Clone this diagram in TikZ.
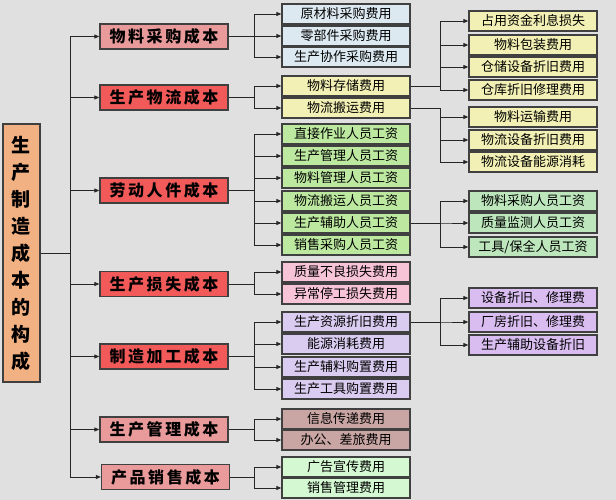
\documentclass[tikz,border=0pt]{standalone}
\usepackage{fontspec}
\setmainfont{Noto Sans CJK SC}
\usetikzlibrary{arrows.meta}
\definecolor{bgc}{HTML}{E0E0E0}
\definecolor{rootc}{HTML}{F2B183}
\definecolor{pinkc}{HTML}{E99A9A}
\definecolor{redc}{HTML}{F25A5A}
\definecolor{bluec}{HTML}{DDE9F1}
\definecolor{yelc}{HTML}{F2F0B4}
\definecolor{grnc}{HTML}{BCE8A0}
\definecolor{grnthree}{HTML}{BDE6BD}
\definecolor{pinktwo}{HTML}{F7C3D6}
\definecolor{lavc}{HTML}{DACCF0}
\definecolor{lavthree}{HTML}{D9BDF0}
\definecolor{brownc}{HTML}{C9A6A4}
\definecolor{lgrnc}{HTML}{D4F8D2}
\definecolor{edgec}{HTML}{404040}
\newcommand\ls{\kern2.6pt\relax}
\tikzset{
  boxbase/.style={draw=edgec, line width=1.3pt, inner sep=0pt, anchor=center},
  rootbox/.style={boxbase, fill=rootc, minimum width=37pt, minimum height=258pt, align=center,
     font=\bfseries\fontsize{19pt}{27pt}\selectfont},
  lvone/.style={boxbase, minimum width=128pt, minimum height=25pt, font=\bfseries\fontsize{16pt}{18pt}\selectfont},
  lvtwo/.style={boxbase, minimum width=128pt, minimum height=20pt, font=\fontsize{13pt}{15pt}\selectfont},
  arr/.style={draw=black!85, line width=0.9pt, -{Triangle[length=5pt,width=4pt]}},
}
\begin{document}
\begin{tikzpicture}[x=1pt,y=-1pt]
\fill[bgc] (0,0) rectangle (616,500);
\useasboundingbox (0,0) rectangle (616,500);

\node[rootbox] (root) at (21.5,253) {生\\产\\制\\造\\成\\本\\的\\构\\成};

\node[lvone, fill=pinkc] (b1) at (164,36.5) {物\ls 料\ls 采\ls 购\ls 成\ls 本};
\node[lvone, fill=redc] (b2) at (164,97.5) {生\ls 产\ls 物\ls 流\ls 成\ls 本};
\node[lvone, fill=redc] (b3) at (164,190.5) {劳\ls 动\ls 人\ls 件\ls 成\ls 本};
\node[lvone, fill=redc] (b4) at (164,284) {生\ls 产\ls 损\ls 失\ls 成\ls 本};
\node[lvone, fill=redc] (b5) at (164,356.5) {制\ls 造\ls 加\ls 工\ls 成\ls 本};
\node[lvone, fill=pinkc] (b6) at (164,429.5) {生\ls 产\ls 管\ls 理\ls 成\ls 本};
\node[lvone, fill=pinkc] (b7) at (165.5,477) {产\ls 品\ls 销\ls 售\ls 成\ls 本};

\foreach \b in {b1,b2,b3,b4,b5,b6,b7}
  \draw[arr] (root.east) -- ++(30,0) |- (\b.west);

% level 2
\node[lvtwo, fill=bluec] (c1) at (346,14) {原材料采购费用};
\node[lvtwo, fill=bluec] (c2) at (346,36) {零部件采购费用};
\node[lvtwo, fill=bluec] (c3) at (346,57) {生产协作采购费用};
\node[lvtwo, fill=yelc] (c4) at (346,86) {物料存储费用};
\node[lvtwo, fill=yelc] (c5) at (346,108) {物流搬运费用};
\node[lvtwo, fill=grnc] (c6) at (346,134) {直接作业人员工资};
\node[lvtwo, fill=grnc] (c7) at (346,156) {生产管理人员工资};
\node[lvtwo, fill=grnc] (c8) at (346,178) {物料管理人员工资};
\node[lvtwo, fill=grnc] (c9) at (346,201) {物流搬运人员工资};
\node[lvtwo, fill=grnc] (c10) at (346,223) {生产辅助人员工资};
\node[lvtwo, fill=grnc] (c11) at (346,245) {销售采购人员工资};
\node[lvtwo, fill=pinktwo] (c12) at (346,272) {质量不良损失费用};
\node[lvtwo, fill=pinktwo] (c13) at (346,294) {异常停工损失费用};
\node[lvtwo, fill=lavc] (c14) at (346,322) {生产资源折旧费用};
\node[lvtwo, fill=lavc] (c15) at (346,344) {能源消耗费用};
\node[lvtwo, fill=lavc] (c16) at (346,367) {生产辅料购置费用};
\node[lvtwo, fill=lavc] (c17) at (346,389) {生产工具购置费用};
\node[lvtwo, fill=brownc] (c18) at (346,419) {信息传递费用};
\node[lvtwo, fill=brownc] (c19) at (346,440) {办公、差旅费用};
\node[lvtwo, fill=lgrnc] (c20) at (346,467) {广告宣传费用};
\node[lvtwo, fill=lgrnc] (c21) at (346,488) {销售管理费用};

\foreach \c in {c1,c2,c3} \draw[arr] (b1.east) -- ++(26,0) |- (\c.west);
\foreach \c in {c4,c5} \draw[arr] (b2.east) -- ++(26,0) |- (\c.west);
\foreach \c in {c6,c7,c8,c9,c10,c11} \draw[arr] (b3.east) -- ++(26,0) |- (\c.west);
\foreach \c in {c12,c13} \draw[arr] (b4.east) -- ++(26,0) |- (\c.west);
\foreach \c in {c14,c15,c16,c17} \draw[arr] (b5.east) -- ++(26,0) |- (\c.west);
\foreach \c in {c18,c19} \draw[arr] (b6.east) -- ++(26,0) |- (\c.west);
\foreach \c in {c20,c21} \draw[arr] (b7.east) -- ++(24.5,0) |- (\c.west);

% level 3
\node[lvtwo, fill=yelc] (d1) at (533,21) {占用资金利息损失};
\node[lvtwo, fill=yelc] (d2) at (533,45) {物料包装费用};
\node[lvtwo, fill=yelc] (d3) at (533,67) {仓储设备折旧费用};
\node[lvtwo, fill=yelc] (d4) at (533,90) {仓库折旧修理费用};
\node[lvtwo, fill=yelc] (d5) at (533,117) {物料运输费用};
\node[lvtwo, fill=yelc] (d6) at (533,140) {物流设备折旧费用};
\node[lvtwo, fill=yelc] (d7) at (533,162) {物流设备能源消耗};
\node[lvtwo, fill=grnthree] (d8) at (533,201) {物料采购人员工资};
\node[lvtwo, fill=grnthree] (d9) at (533,223) {质量监测人员工资};
\node[lvtwo, fill=grnthree] (d10) at (533,247) {工具/保全人员工资};
\node[lvtwo, fill=lavthree] (d11) at (533,298) {设备折旧、修理费};
\node[lvtwo, fill=lavthree] (d12) at (533,322) {厂房折旧、修理费};
\node[lvtwo, fill=lavthree] (d13) at (533,345) {生产辅助设备折旧};

\foreach \d in {d1,d2,d3,d4} \draw[arr] (c4.east) -- ++(30,0) |- (\d.west);
\foreach \d in {d5,d6,d7} \draw[arr] (c5.east) -- ++(30,0) |- (\d.west);
\foreach \d in {d8,d9,d10} \draw[arr] (c10.east) -- ++(30,0) |- (\d.west);
\foreach \d in {d11,d12,d13} \draw[arr] (c14.east) -- ++(30,0) |- (\d.west);
\end{tikzpicture}
\end{document}
